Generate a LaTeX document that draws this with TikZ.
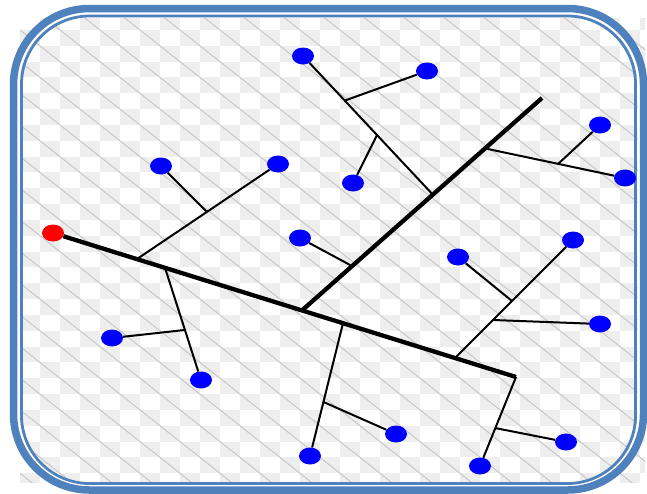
\documentclass[tikz,border=0pt]{standalone}
\usetikzlibrary{shapes.geometric}
\definecolor{cellgray}{RGB}{238,238,238}
\definecolor{diaggray}{RGB}{200,200,200}
\definecolor{bordblue}{RGB}{79,129,189}
\definecolor{nodeblue}{RGB}{0,0,255}
\definecolor{nodered}{RGB}{255,0,0}
\tikzset{
  leaf/.style={ellipse, fill=nodeblue, minimum width=22pt, minimum height=17pt, inner sep=0pt},
  root/.style={ellipse, fill=nodered, minimum width=22pt, minimum height=17pt, inner sep=0pt},
  thinline/.style={line width=2pt, black},
  thickline/.style={line width=4.3pt, black},
  diagline/.style={line width=1pt, diaggray},
}
\begin{document}
\begin{tikzpicture}[x=1pt,y=-1pt]
\useasboundingbox (0,0) rectangle (647,493);
% background pattern
\begin{scope}
  \clip (20,18) rectangle (645,482);
  \foreach \j in {-1,...,29}{
    \pgfmathtruncatemacro\istart{1+mod(\j+10,2)}
    \foreach \k in {0,...,16}{
      \fill[cellgray] ({20*(\istart+2*\k)},{30+15.83*\j}) rectangle ++(20,15.83);
    }
  }
  \foreach \c in {-27,-25,...,33}{
    \draw[diagline] ({20*\c-40},{30-2*15.83}) -- ++(700,{700*0.7915});
  }
\end{scope}
% border
\draw[white, line width=4pt, rounded corners=72pt] (17.5,12.3) rectangle (639.5,486.5);
\draw[bordblue, line width=7.5pt, rounded corners=76pt] (13.5,8.5) rectangle (643.5,490);
\draw[bordblue, line width=2.8pt, rounded corners=68pt] (21.5,16) rectangle (635.5,483.5);

% nodes
\node[root] (R) at (53,233) {};
\node[leaf] (b1) at (278,164) {};
\node[leaf] (b2) at (161,166) {};
\node[leaf] (b3) at (201,380) {};
\node[leaf] (b4) at (112,338) {};
\node[leaf] (b5) at (310,456) {};
\node[leaf] (b6) at (396,434) {};
\node[leaf] (b7) at (573,240) {};
\node[leaf] (b8) at (600,324) {};
\node[leaf] (b9) at (458,257) {};
\node[leaf] (b10) at (480,466) {};
\node[leaf] (b11) at (566,442) {};
\node[leaf] (b12) at (300,238) {};
\node[leaf] (b13) at (303,56) {};
\node[leaf] (b14) at (427,71) {};
\node[leaf] (b15) at (353,183) {};
\node[leaf] (b16) at (625,178) {};
\node[leaf] (b17) at (600,125) {};

% junction coordinates
\coordinate (M1) at (516,377);
\coordinate (J0) at (302,310.4);
\coordinate (T) at (542,98);
\coordinate (a1) at (137,259);
\coordinate (a2) at (207,212);
\coordinate (a3) at (165,267.8);
\coordinate (a4) at (184.5,330);
\coordinate (a5) at (343,323.2);
\coordinate (a6) at (323.5,402);
\coordinate (a7) at (455,358);
\coordinate (a8) at (493,320);
\coordinate (a9) at (512,301);
\coordinate (a10) at (495,428);
\coordinate (c1) at (352,266);
\coordinate (c2) at (432.7,194.5);
\coordinate (c3) at (345,100.5);
\coordinate (c4) at (377,135);
\coordinate (c5) at (485,148.4);
\coordinate (c6) at (558,164);

% thin branches
\draw[thinline] (a1) -- (b1);
\draw[thinline] (a2) -- (b2);
\draw[thinline] (a3) -- (b3);
\draw[thinline] (a4) -- (b4);
\draw[thinline] (a5) -- (b5);
\draw[thinline] (a6) -- (b6);
\draw[thinline] (a7) -- (b7);
\draw[thinline] (a8) -- (b8);
\draw[thinline] (a9) -- (b9);
\draw[thinline] (M1) -- (b10);
\draw[thinline] (a10) -- (b11);
\draw[thinline] (c1) -- (b12);
\draw[thinline] (c2) -- (b13);
\draw[thinline] (c3) -- (b14);
\draw[thinline] (c4) -- (b15);
\draw[thinline] (c5) -- (b16);
\draw[thinline] (c6) -- (b17);

% thick trunks
\draw[thickline] (R) -- (M1);
\draw[thickline] (J0) -- (T);
\end{tikzpicture}
\end{document}
